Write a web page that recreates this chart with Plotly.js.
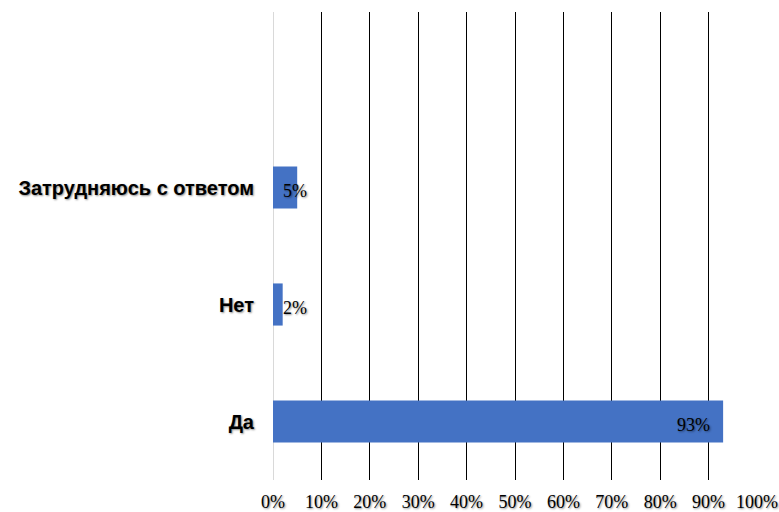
<!DOCTYPE html>
<html>
<head>
<meta charset="utf-8">
<script src="https://cdn.plot.ly/plotly-3.0.1.min.js"></script>
<style>html,body{margin:0;padding:0;background:#fff;}#chart{width:779px;height:512px;}</style>
</head>
<body>
<div id="chart"></div>
<script>
const categories = ['Да', 'Нет', 'Затрудняюсь с ответом'];
const values = [93, 2, 5];
const valueLabels = ['93%', '2%', '5%'];
const tickValues = [0, 10, 20, 30, 40, 50, 60, 70, 80, 90, 100];
const tickLabels = ['0%', '10%', '20%', '30%', '40%', '50%', '60%', '70%', '80%', '90%', '100%'];

const shadow = '1px 1px 2px rgba(0,0,0,0.45)';

const annotations = values.map((v, i) => {
  const big = v >= 10;
  return {
    x: big ? v : 0,
    y: categories[i],
    xref: 'x', yref: 'y',
    text: valueLabels[i],
    showarrow: false,
    xanchor: big ? 'right' : 'left',
    xshift: big ? -11 : 8,
    yshift: -3,
    font: {family: '"Liberation Serif", "Times New Roman", serif', size: 18, color: '#000', shadow: shadow}
  };
});

const trace = {
  type: 'bar',
  orientation: 'h',
  x: values,
  y: categories,
  marker: {color: '#4472C4'},
  width: 0.36,
  hoverinfo: 'none'
};

const layout = {
  width: 779, height: 512,
  margin: {l: 273, r: 22, t: 12, b: 32},
  paper_bgcolor: '#fff', plot_bgcolor: '#fff',
  showlegend: false,
  xaxis: {
    range: [0, 100],
    tickvals: tickValues,
    ticktext: tickLabels,
    showgrid: true,
    gridcolor: '#000',
    gridwidth: 1,
    zeroline: true,
    zerolinecolor: '#d9d9d9',
    zerolinewidth: 1,
    showline: false,
    ticks: '',
    ticklabelstandoff: 9,
    tickfont: {family: '"Liberation Serif", "Times New Roman", serif', size: 18, color: '#000', shadow: shadow},
    fixedrange: true
  },
  yaxis: {
    type: 'category',
    categoryorder: 'array',
    categoryarray: categories,
    range: [-0.5, 3.5],
    showgrid: false,
    zeroline: false,
    showline: false,
    ticks: '',
    ticklabelstandoff: 18,
    tickfont: {family: '"Liberation Sans", Arial, sans-serif', size: 20, weight: 'bold', color: '#000', shadow: shadow},
    fixedrange: true
  },
  annotations: annotations
};

Plotly.newPlot('chart', [trace], layout, {displayModeBar: false, staticPlot: true});
</script>
</body>
</html>
